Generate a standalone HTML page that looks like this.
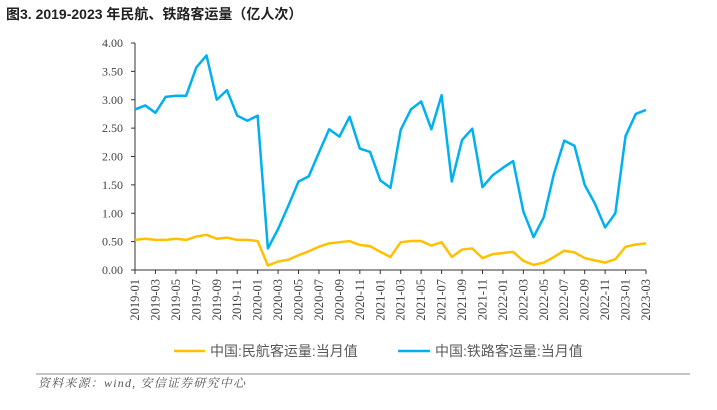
<!DOCTYPE html>
<html><head><meta charset="utf-8">
<style>
body{margin:0;width:717px;height:405px;background:#fff;overflow:hidden;font-family:"Liberation Sans","Noto Sans CJK SC",sans-serif;}
</style></head>
<body>
<svg id="chart" width="717" height="405" xmlns="http://www.w3.org/2000/svg">
<text x="6" y="19" font-size="14" font-weight="bold" fill="#222" font-family="Liberation Sans, Noto Sans CJK SC, sans-serif">图3. 2019-2023 年民航、铁路客运量（亿人次）</text>
<g id="yaxis"></g>
<g id="xaxis"></g>
<g id="series"></g>
<g>
<line x1="174" y1="351" x2="205" y2="351" stroke="#FFC000" stroke-width="2.5"/>
<text x="210" y="356" font-size="14" fill="#595959">中国:民航客运量:当月值</text>
<line x1="398" y1="351" x2="430" y2="351" stroke="#00B0F0" stroke-width="2.5"/>
<text x="435" y="356" font-size="14" fill="#595959">中国:铁路客运量:当月值</text>
</g>
<line x1="36" y1="374" x2="690" y2="374" stroke="#888" stroke-width="1"/>
<text x="38" y="387" font-size="12" font-style="italic" letter-spacing="1.2" fill="#555" font-family="Liberation Serif, Noto Serif CJK SC, serif">资料来源：wind, 安信证券研究中心</text>
</svg>
<script>
const yTicks=[0,0.5,1,1.5,2,2.5,3,3.5,4];
const yTickLabels=["0.00","0.50","1.00","1.50","2.00","2.50","3.00","3.50","4.00"];
const months=[];
for(let y=2019;y<=2023;y++){for(let m=1;m<=12;m++){if(y===2023&&m>3)break;months.push(y+"-"+String(m).padStart(2,"0"));}}
const airValues=[0.53,0.55,0.53,0.53,0.55,0.53,0.59,0.62,0.55,0.57,0.53,0.53,0.51,0.08,0.15,0.18,0.26,0.33,0.41,0.47,0.49,0.51,0.44,0.42,0.32,0.23,0.49,0.51,0.51,0.43,0.49,0.23,0.36,0.38,0.21,0.28,0.30,0.32,0.16,0.09,0.13,0.23,0.34,0.31,0.21,0.17,0.13,0.19,0.41,0.45,0.47];
const railValues=[2.83,2.90,2.77,3.05,3.07,3.07,3.57,3.78,3.00,3.17,2.72,2.63,2.72,0.38,0.72,1.13,1.56,1.65,2.07,2.48,2.35,2.70,2.14,2.08,1.58,1.45,2.47,2.83,2.97,2.48,3.08,1.56,2.29,2.49,1.46,1.67,1.80,1.92,1.03,0.58,0.93,1.70,2.28,2.19,1.50,1.17,0.75,1.00,2.36,2.75,2.82];
const NS="http://www.w3.org/2000/svg";
const x0=135,x1=646,yB=270,yT=43;
const xs=i=>x0+(x1-x0)*i/(months.length-1);
const ys=v=>yB-(yB-yT)*v/4;
function mk(tag,attrs,parent){const e=document.createElementNS(NS,tag);for(const k in attrs)e.setAttribute(k,attrs[k]);parent.appendChild(e);return e;}
const ya=document.getElementById('yaxis'),xa=document.getElementById('xaxis'),sg=document.getElementById('series');
let l=mk('line',{x1:x0,y1:yT,x2:x0,y2:yB,stroke:'#333','stroke-width':1},ya);


yTicks.forEach((v,i)=>{
 const t=mk('line',{x1:x0-4,y1:ys(v),x2:x0,y2:ys(v),stroke:'#333'},ya);
 
 
 const tx=mk('text',{x:x0-12,y:ys(v)+4,'text-anchor':'end','font-size':12,fill:'#444','font-family':'Liberation Serif, serif'},ya);
 tx.textContent=yTickLabels[i];
 
 
});
l=mk('line',{x1:x0,y1:yB,x2:x1,y2:yB,stroke:'#333','stroke-width':1},xa);


months.forEach((m,i)=>{
 if(i%2)return;
 const t=mk('line',{x1:xs(i),y1:yB,x2:xs(i),y2:yB+4,stroke:'#333'},xa);
 
 
 const tx=mk('text',{x:0,y:0,'text-anchor':'end','font-size':12.5,fill:'#444','font-family':'Liberation Serif, serif',transform:`translate(${xs(i)+4},279) rotate(-90)`},xa);
 tx.textContent=m;
 
 
});
function line(vals,color,name){
 const p=mk('polyline',{points:vals.map((v,i)=>xs(i)+','+ys(v)).join(' '),fill:'none',stroke:color,'stroke-width':2.5,'stroke-linejoin':'round'},sg);
 
 
}
line(airValues,'#FFC000','air-passenger-line');
line(railValues,'#00B0F0','rail-passenger-line');
</script>
</body></html>
